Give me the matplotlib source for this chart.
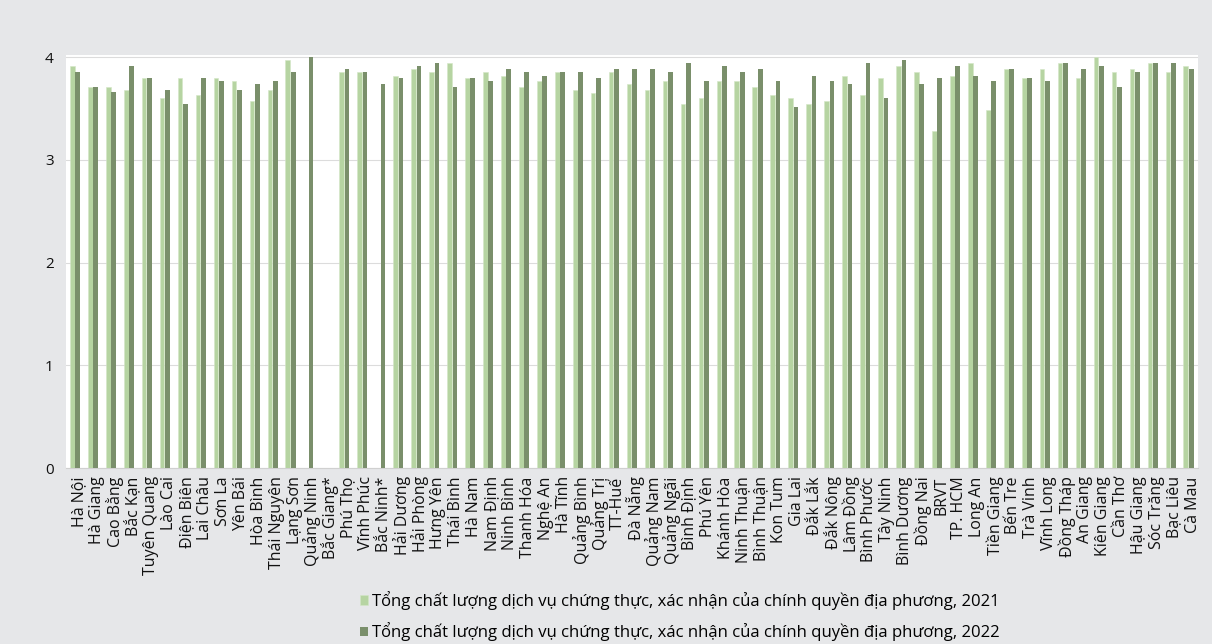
import matplotlib
matplotlib.use("Agg")
import matplotlib.pyplot as plt
import matplotlib.transforms as mtransforms
import numpy as np

provinces = ["Hà Nội", "Hà Giang", "Cao Bằng", "Bắc Kạn", "Tuyên Quang", "Lào Cai", "Điện Biên",
             "Lai Châu", "Sơn La", "Yên Bái", "Hòa Bình", "Thái Nguyên", "Lạng Sơn", "Quảng Ninh",
             "Bắc Giang*", "Phú Thọ", "Vĩnh Phúc", "Bắc Ninh*", "Hải Dương", "Hải Phòng", "Hưng Yên",
             "Thái Bình", "Hà Nam", "Nam Định", "Ninh Bình", "Thanh Hóa", "Nghệ An", "Hà Tĩnh",
             "Quảng Bình", "Quảng Trị", "TT-Huế", "Đà Nẵng", "Quảng Nam", "Quảng Ngãi", "Bình Định",
             "Phú Yên", "Khánh Hòa", "Ninh Thuận", "Bình Thuận", "Kon Tum", "Gia Lai", "Đắk Lắk",
             "Đắk Nông", "Lâm Đồng", "Bình Phước", "Tây Ninh", "Bình Dương", "Đồng Nai", "BRVT",
             "TP. HCM", "Long An", "Tiền Giang", "Bến Tre", "Trà Vinh", "Vĩnh Long", "Đồng Tháp",
             "An Giang", "Kiên Giang", "Cần Thơ", "Hậu Giang", "Sóc Trăng", "Bạc Liêu", "Cà Mau"]

nan = np.nan
values_2021 = [3.91, 3.71, 3.71, 3.68, 3.80, 3.60, 3.80, 3.63, 3.80, 3.77, 3.57, 3.68, 3.97, nan,
               nan, 3.85, 3.85, nan, 3.82, 3.88, 3.85, 3.94, 3.80, 3.85, 3.82, 3.71, 3.77, 3.85,
               3.68, 3.65, 3.85, 3.74, 3.68, 3.77, 3.54, 3.60, 3.77, 3.77, 3.71, 3.63, 3.60, 3.54,
               3.57, 3.82, 3.63, 3.80, 3.91, 3.85, 3.28, 3.82, 3.94, 3.48, 3.88, 3.80, 3.88, 3.94,
               3.80, 4.00, 3.85, 3.88, 3.94, 3.85, 3.91]
values_2022 = [3.85, 3.71, 3.66, 3.91, 3.80, 3.68, 3.54, 3.80, 3.77, 3.68, 3.74, 3.77, 3.85, 4.00,
               nan, 3.88, 3.85, 3.74, 3.80, 3.91, 3.94, 3.71, 3.80, 3.77, 3.88, 3.85, 3.82, 3.85,
               3.85, 3.80, 3.88, 3.88, 3.88, 3.85, 3.94, 3.77, 3.91, 3.85, 3.88, 3.77, 3.51, 3.82,
               3.77, 3.74, 3.94, 3.60, 3.97, 3.74, 3.80, 3.91, 3.82, 3.77, 3.88, 3.80, 3.77, 3.94,
               3.88, 3.91, 3.71, 3.85, 3.94, 3.94, 3.88]

legend_labels = ["Tổng chất lượng dịch vụ chứng thực, xác nhận của chính quyền địa phương, 2021",
                 "Tổng chất lượng dịch vụ chứng thực, xác nhận của chính quyền địa phương, 2022"]
y_ticks = [0, 1, 2, 3, 4]

plt.rcParams['font.family'] = ['Open Sans', 'DejaVu Sans']

c_light = "#b6d4a2"
c_dark = "#7a8f6b"
bg = "#e6e7e9"

fig = plt.figure(figsize=(12.12, 6.44), dpi=100, facecolor=bg)
ax = fig.add_axes([66 / 1212, 176 / 644, (1197.5 - 66) / 1212, (468 - 55) / 644])
ax.set_facecolor("white")

x = np.arange(len(provinces))
w = 0.26
ax.bar(x - 0.15, values_2021, width=w, color=c_light, edgecolor="#d3e6c6", linewidth=0.4,
       label=legend_labels[0], zorder=3)
ax.bar(x + 0.15, values_2022, width=w, color=c_dark, linewidth=0,
       label=legend_labels[1], zorder=3)

ax.set_xlim(-0.5, len(provinces) - 0.5)
ax.set_ylim(0, 4.02)
ax.set_yticks(y_ticks)
ax.set_yticklabels([str(t) for t in y_ticks], fontsize=11, color="#111111")
ax.yaxis.grid(True, color="#dcdcdc", linewidth=0.8, zorder=0)
ax.set_axisbelow(True)
ax.tick_params(axis="y", length=0, pad=9)
ax.tick_params(axis="x", length=0, pad=6)
ax.set_xticks(x)
ax.set_xticklabels(provinces, rotation=90, fontsize=11.5, color="#111111", ha="center", va="top")
offset = mtransforms.ScaledTranslation(4 / 100, 0, fig.dpi_scale_trans)
for lab in ax.get_xticklabels():
    lab.set_transform(lab.get_transform() + offset)
for s in ["top", "right", "left"]:
    ax.spines[s].set_visible(False)
ax.spines["bottom"].set_color("#d0d0d0")

leg = fig.legend(loc="upper center", bbox_to_anchor=(680 / 1212, 1 - 591 / 644), ncol=1,
                 frameon=False, fontsize=12, handlelength=0.5, handleheight=0.5,
                 handletextpad=0.25, labelspacing=0.75, borderaxespad=0, borderpad=0)

fig.savefig("out.png", dpi=100, facecolor=bg)
